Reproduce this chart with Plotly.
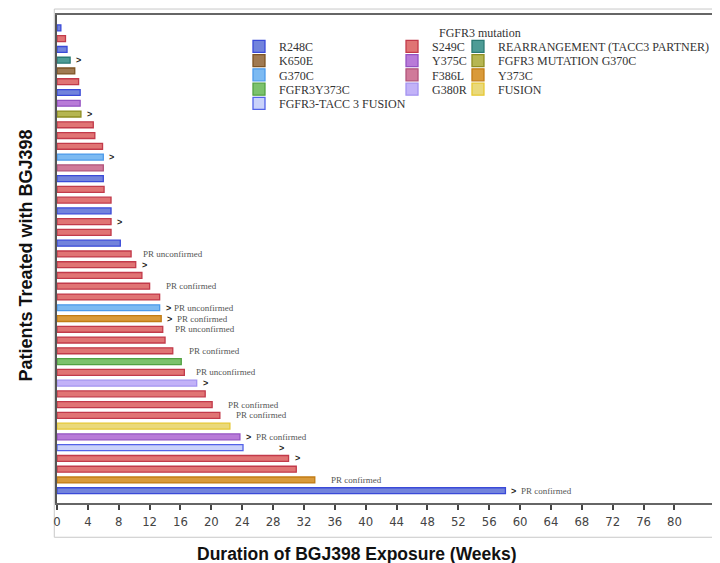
import plotly.graph_objects as go

# ---- data (top to bottom) ----
patients = list(range(1, 45))
mutations = [
    "R248C", "S249C", "R248C", "REARRANGEMENT (TACC3 PARTNER)", "K650E",
    "S249C", "R248C", "Y375C", "FGFR3 MUTATION G370C", "S249C",
    "S249C", "S249C", "G370C", "F386L", "R248C",
    "S249C", "S249C", "R248C", "S249C", "S249C",
    "R248C", "S249C", "S249C", "S249C", "S249C",
    "S249C", "G370C", "Y373C", "S249C", "S249C",
    "S249C", "FGFR3Y373C", "S249C", "G380R", "S249C",
    "S249C", "S249C", "FUSION", "Y375C", "FGFR3-TACC 3 FUSION",
    "S249C", "S249C", "Y373C", "R248C",
]
weeks = [0.5, 1.1, 1.3, 1.7, 2.3, 2.8, 3.0, 3.0, 3.1, 4.7,
         4.9, 5.9, 6.0, 6.0, 6.0, 6.1, 7.0, 7.0, 7.0, 7.0,
         8.2, 9.6, 10.2, 11.0, 12.0, 13.3, 13.3, 13.5, 13.7, 14.0,
         15.0, 16.1, 16.5, 18.1, 19.2, 20.1, 21.1, 22.4, 23.7, 24.1,
         30.0, 31.0, 33.4, 58.1]
ongoing = [False, False, False, True, False, False, False, False, True, False,
           False, False, True, False, False, False, False, False, True, False,
           False, False, True, False, False, False, True, True, False, False,
           False, False, False, True, False, False, False, False, True, True,
           True, False, False, True]
response = [""] * 21 + [
    "PR unconfirmed", "", "", "PR confirmed", "", "PR unconfirmed", "PR confirmed",
    "PR unconfirmed", "", "PR confirmed", "", "PR unconfirmed", "", "", "PR confirmed",
    "PR confirmed", "", "PR confirmed", "", "", "", "PR confirmed", "PR confirmed"]

legend_cols = [
    ["R248C", "K650E", "G370C", "FGFR3Y373C", "FGFR3-TACC 3 FUSION"],
    ["S249C", "Y375C", "F386L", "G380R"],
    ["REARRANGEMENT (TACC3 PARTNER)", "FGFR3 MUTATION G370C", "Y373C", "FUSION"],
]
legend_title = "FGFR3 mutation"
x_ticks = list(range(0, 84, 4))

# ---- styles ----
colors = {
    "R248C": ("#7283dc", "#3a4ad8"),
    "S249C": ("#e07474", "#c23a4a"),
    "REARRANGEMENT (TACC3 PARTNER)": ("#4e9c96", "#2a7a74"),
    "K650E": ("#a07a52", "#7e5424"),
    "Y375C": ("#b87ad8", "#9452c2"),
    "FGFR3 MUTATION G370C": ("#b6b652", "#8e8e22"),
    "G370C": ("#7cbaf2", "#4c9aea"),
    "F386L": ("#d07a9a", "#b0527a"),
    "FGFR3Y373C": ("#7cc26c", "#52a242"),
    "G380R": ("#c2b2f8", "#a292f0"),
    "Y373C": ("#d99a3a", "#c27c14"),
    "FUSION": ("#ead97a", "#e6c832"),
    "FGFR3-TACC 3 FUSION": ("#cad2fa", "#5262e8"),
}
arrow_shift = {40: 34}
pr_shift = {"PR confirmed": 14, "PR unconfirmed": 10}
legend_col_x = [0.2745, 0.5053, 0.6048]
legend_row_y = [0.9358, 0.9066, 0.8774, 0.8480, 0.8188]

serif = "Liberation Serif, Times New Roman, serif"
sans = "Liberation Sans, Arial, sans-serif"

fig = go.Figure()
legend_layout = {}
k = 0
for ci, col in enumerate(legend_cols):
    for ri, m in enumerate(col):
        k += 1
        lid = "legend" if k == 1 else f"legend{k}"
        xs = [w for w, mm in zip(weeks, mutations) if mm == m]
        ys = [p for p, mm in zip(patients, mutations) if mm == m]
        fill, line = colors[m]
        fig.add_trace(go.Bar(
            x=xs, y=ys, orientation="h", name=m, width=0.55,
            marker=dict(color=fill, line=dict(color=line, width=1.3)),
            legend=lid, hoverinfo="x+name",
        ))
        legend_layout[lid] = dict(
            x=legend_col_x[ci], y=legend_row_y[ri], xanchor="left", yanchor="middle",
            orientation="v", bgcolor="rgba(0,0,0,0)", itemclick=False,
            font=dict(family=serif, size=12, color="#333"))

annotations = []
for p, w, og, r in zip(patients, weeks, ongoing, response):
    if og:
        annotations.append(dict(
            x=w, y=p, xref="x", yref="y", text="<b>&gt;</b>", showarrow=False,
            xanchor="left", xshift=arrow_shift.get(p, 4),
            font=dict(family=sans, size=9, color="#222")))
    if r:
        shift = max(pr_shift[r], 12) if og else pr_shift[r]
        annotations.append(dict(
            x=w, y=p, xref="x", yref="y", text=r, showarrow=False,
            xanchor="left", xshift=shift,
            font=dict(family=serif, size=9, color="#555")))

annotations += [
    dict(text=legend_title, x=0.638, y=0.964, xref="paper", yref="paper",
         xanchor="center", yanchor="middle", showarrow=False,
         font=dict(family=serif, size=12, color="#333")),
    dict(text="<b>Duration of BGJ398 Exposure (Weeks)</b>", x=0.4525, y=-0.1035,
         xref="paper", yref="paper", xanchor="center", yanchor="middle", showarrow=False,
         font=dict(family=sans, size=17.5, color="#111")),
    dict(text="<b>Patients Treated with BGJ398</b>", x=-0.0468, y=0.507,
         xref="paper", yref="paper", xanchor="center", yanchor="middle", showarrow=False,
         textangle=-90, font=dict(family=sans, size=18, color="#111")),
]

fig.update_layout(
    width=720, height=563,
    margin=dict(l=49, r=8, t=5, b=68),
    paper_bgcolor="white", plot_bgcolor="white",
    barmode="overlay", showlegend=True,
    xaxis=dict(range=[0, 85.9], tickvals=x_ticks, ticks="outside", ticklen=5,
               tickwidth=1.5, tickcolor="#444", showline=True, linecolor="#666",
               linewidth=2, mirror=True, showgrid=False, zeroline=False,
               tickfont=dict(family="Liberation Sans Narrow, DejaVu Sans Condensed, Arial Narrow, sans-serif",
                             size=13, color="#444")),
    yaxis=dict(range=[45.14, -0.2], showticklabels=False, ticks="",
               showline=True, linecolor="#555", linewidth=2, showgrid=False,
               zeroline=False),
    annotations=annotations,
    shapes=[dict(type="rect", xref="paper", yref="paper", x0=-0.0041, x1=1.05,
                 y0=-0.0702, y1=1.0122, line=dict(color="#c8c8c8", width=1),
                 layer="below")],
    **legend_layout,
)

fig.write_html("out.html")
